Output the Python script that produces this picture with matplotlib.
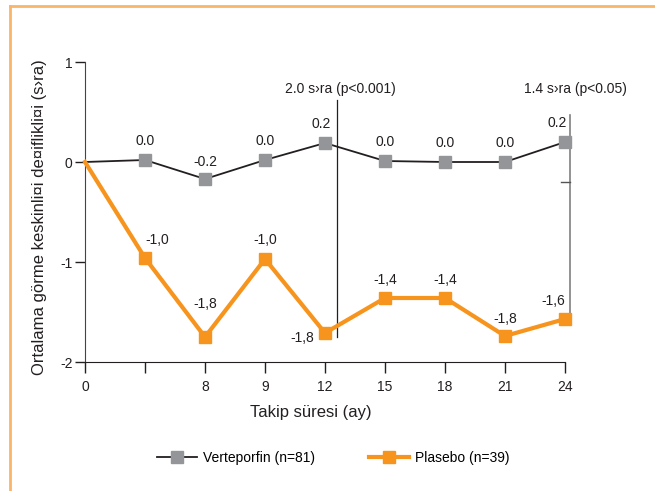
import matplotlib
matplotlib.use("Agg")
import matplotlib.pyplot as plt
from matplotlib.lines import Line2D

plt.rcParams["font.family"] = ["Liberation Sans", "DejaVu Sans"]

# ── Data ───────────────────────────────────────────────────────────────────
tick_labels = ["0", "", "8", "9", "12", "15", "18", "21", "24"]
positions = list(range(len(tick_labels)))

verteporfin = [0.0, 0.02, -0.17, 0.02, 0.19, 0.01, 0.0, 0.0, 0.2]
verteporfin_labels = ["0.0", "-0.2", "0.0", "0.2", "0.0", "0.0", "0.0", "0.2"]

plasebo = [0.0, -0.96, -1.75, -0.97, -1.71, -1.36, -1.36, -1.74, -1.57]
plasebo_labels = ["-1,0", "-1,8", "-1,0", "-1,8", "-1,4", "-1,4", "-1,8", "-1,6"]

# label offsets in pixels (dx, dy) relative to marker
v_offsets = [(0, 19), (0, 17), (0, 19), (-4, 19), (0, 19), (0, 19), (0, 19), (-8, 19)]
p_offsets = [(12, 18), (0, 33), (0, 19), (-23, -5), (0, 18), (0, 18), (0, 17), (-12, 18)]

ORANGE = "#F7941D"
GREY = "#939598"
DARK = "#231F20"
FS = 10

fig = plt.figure(figsize=(6.55, 4.91), dpi=100)
ax = fig.add_axes([85 / 655, 129 / 491, 480 / 655, 300 / 491])

ax.plot(positions, verteporfin, color=DARK, lw=1.3, marker="s", ms=8,
        mfc=GREY, mec=GREY, markevery=list(range(1, 9)), clip_on=False, zorder=3,
        label="Verteporfin (n=81)")
ax.plot(positions, plasebo, color=ORANGE, lw=3, marker="s", ms=8,
        mfc=ORANGE, mec=ORANGE, markevery=list(range(1, 9)), clip_on=False, zorder=4,
        label="Plasebo (n=39)")

pt = 0.72  # px -> points at 100 dpi
for i, (lab, (dx, dy)) in enumerate(zip(verteporfin_labels, v_offsets), start=1):
    ax.annotate(lab, (positions[i], verteporfin[i]), xytext=(dx * pt, dy * pt),
                textcoords="offset points", ha="center", va="center",
                fontsize=FS, color=DARK)
for i, (lab, (dx, dy)) in enumerate(zip(plasebo_labels, p_offsets), start=1):
    ax.annotate(lab, (positions[i], plasebo[i]), xytext=(dx * pt, dy * pt),
                textcoords="offset points", ha="center", va="center",
                fontsize=FS, color=DARK)

# significance markers
ax.plot([4.2, 4.2], [0.62, -1.75], color=DARK, lw=0.9, clip_on=False)
ax.text(4.25, 0.73, "2.0 s\u203ara (p<0.001)", ha="center", va="center",
        fontsize=FS, color=DARK)
ax.plot([8.075, 8.075], [0.47, -1.58], color="#808080", lw=1.2, clip_on=False)
ax.plot([7.93, 8.075], [-0.2, -0.2], color="#555555", lw=1.0, clip_on=False)
ax.text(8.17, 0.73, "1.4 s\u203ara (p<0.05)", ha="center", va="center",
        fontsize=FS, color=DARK)

ax.set_xlim(0, 8)
ax.set_ylim(-2, 1)
ax.set_xticks(positions)
ax.set_xticklabels(tick_labels)
ax.set_yticks([1, 0, -1, -2])
ax.set_yticklabels(["1", "0", "-1", "-2"])
for s in ["top", "right"]:
    ax.spines[s].set_visible(False)
ax.spines["left"].set_color("#444444")
ax.spines["bottom"].set_color(DARK)
ax.tick_params(axis="x", direction="out", length=8, pad=5, labelsize=FS,
               colors=DARK, width=1)
ax.tick_params(axis="y", direction="out", length=7, pad=2, labelsize=FS,
               colors=DARK, width=1)
ax.patch.set_alpha(0)

fig.text(311 / 655, 1 - 412 / 491, "Takip süresi (ay)", ha="center", va="center",
         fontsize=12, color=DARK)
fig.text(40 / 655, 1 - 217 / 491, "Ortalama görme keskinli¤i de¤iflikli¤i (s\u203ara)",
         ha="center", va="center", rotation=90, fontsize=12, color=DARK)

fig.legend(loc="center", bbox_to_anchor=(333 / 655, 1 - 458 / 491), ncol=2,
           frameon=False, fontsize=FS, handlelength=2.9, columnspacing=3.9,
           handletextpad=0.4)

# orange frame (left and top edges)
fig.add_artist(Line2D([9.5 / 655, 9.5 / 655], [0, 1 - 6 / 491], color="#F9B56A",
                      lw=2, transform=fig.transFigure))
fig.add_artist(Line2D([9.5 / 655, 1], [1 - 6 / 491, 1 - 6 / 491], color="#F9B56A",
                      lw=2, transform=fig.transFigure))

fig.savefig("out.png", dpi=100)
